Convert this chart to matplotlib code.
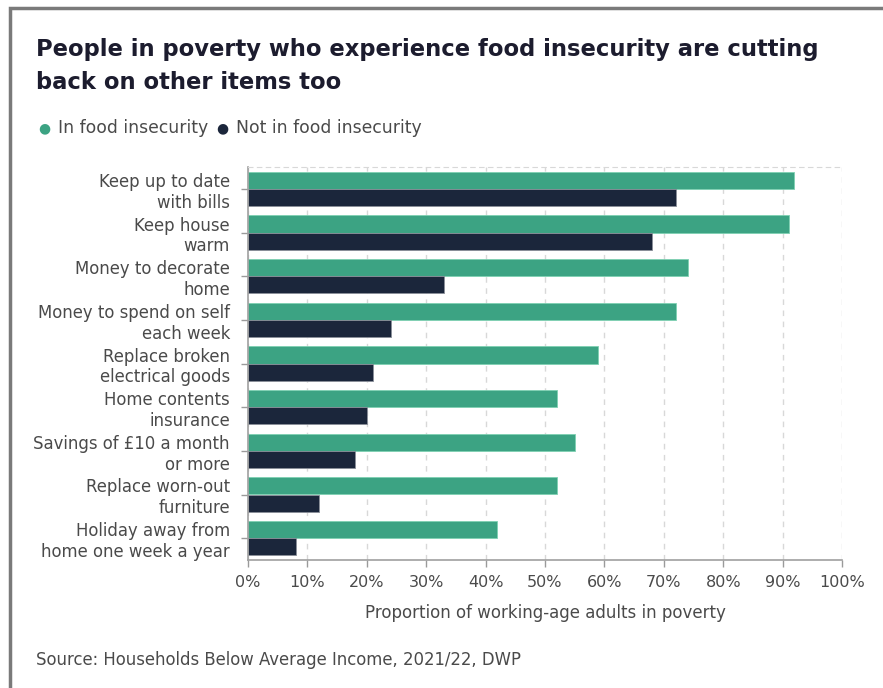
import matplotlib
matplotlib.use('Agg')
import matplotlib.pyplot as plt
from matplotlib.patches import Rectangle
import numpy as np

plt.rcParams['font.family'] = ['DejaVu Sans']

categories = ['Keep up to date\nwith bills', 'Keep house\nwarm', 'Money to decorate\nhome',
              'Money to spend on self\neach week', 'Replace broken\nelectrical goods',
              'Home contents\ninsurance', 'Savings of £10 a month\nor more',
              'Replace worn-out\nfurniture', 'Holiday away from\nhome one week a year']
in_food_insecurity = [92, 91, 74, 72, 59, 52, 55, 52, 42]
not_in_food_insecurity = [72, 68, 33, 24, 21, 20, 18, 12, 8]
xticks = [0, 10, 20, 30, 40, 50, 60, 70, 80, 90, 100]

green = '#3ca383'
navy = '#1b263b'
grey_text = '#4a4a4a'

fig = plt.figure(figsize=(8.83, 6.88), dpi=100)
ax = fig.add_axes([248/883, 1 - 560/688, 594/883, 393/688])

y = np.arange(len(categories))
h = 0.39
ax.barh(y - h/2, in_food_insecurity, height=h, color=green, edgecolor='#7fd0b2', linewidth=0.6)
ax.barh(y + h/2, not_in_food_insecurity, height=h, color=navy, edgecolor='#8a8f99', linewidth=0.6)

ax.set_xlim(0, 100)
ax.set_ylim(len(categories) - 0.5, -0.5)
ax.set_yticks(y)
ax.set_yticklabels(categories, fontsize=11.9, color=grey_text, linespacing=1.2)
ax.set_xticks(xticks)
ax.set_xticklabels([f'{t}%' for t in xticks], fontsize=11.5, color=grey_text)
ax.tick_params(axis='both', length=5, color='#9a9a9a', width=1, pad=6)
ax.tick_params(axis='y', pad=8)

ax.grid(axis='x', linestyle=(0, (4, 4)), color='#d8d8d8', linewidth=1)
ax.set_axisbelow(True)
for s in ['left', 'bottom']:
    ax.spines[s].set_color('#a0a0a0')
    ax.spines[s].set_linewidth(1.2)
ax.spines['right'].set_visible(False)
ax.spines['top'].set_linestyle((0, (4, 4)))
ax.spines['top'].set_color('#d8d8d8')

ax.set_xlabel('Proportion of working-age adults in poverty', fontsize=12,
              color=grey_text, labelpad=10)

# title, legend and source
fig.text(36/883, 1 - 66/688, 'People in poverty who experience food insecurity are cutting\nback on other items too',
         fontsize=16.3, fontweight='bold', color='#1c1c2e', va='center', linespacing=1.6)
fig.text(44/883, 1 - 128/688, '●', color=green, fontsize=10, va='center', ha='center')
fig.text(58/883, 1 - 128/688, 'In food insecurity', color=grey_text, fontsize=12.4, va='center')
fig.text(222/883, 1 - 128/688, '●', color=navy, fontsize=10, va='center', ha='center')
fig.text(236/883, 1 - 128/688, 'Not in food insecurity', color=grey_text, fontsize=12.4, va='center')
fig.text(36/883, 1 - 660/688, 'Source: Households Below Average Income, 2021/22, DWP',
         color=grey_text, fontsize=11.9, va='center')

# outer frame
fig.add_artist(Rectangle((10/883, -0.2), 1.2, 1.2 - 8/688, transform=fig.transFigure,
                         fill=False, edgecolor='#7a7a7a', linewidth=2.5))

fig.savefig('out.png', dpi=100)
